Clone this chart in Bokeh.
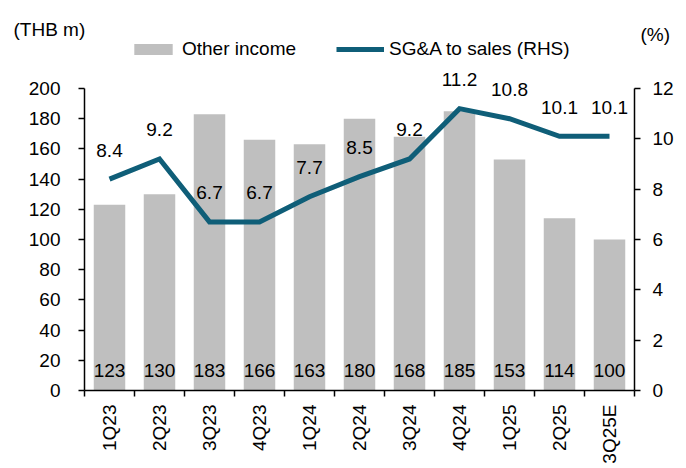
import math
from bokeh.plotting import figure
from bokeh.models import (ColumnDataSource, Range1d, LinearAxis, FixedTicker,
                          Legend, LegendItem, Label, LabelSet)
from bokeh.core.properties import value
from bokeh.embed import file_html
from bokeh.resources import INLINE

quarters = ["1Q23", "2Q23", "3Q23", "4Q23", "1Q24", "2Q24", "3Q24", "4Q24", "1Q25", "2Q25", "3Q25E"]
other_income = [123, 130, 183, 166, 163, 180, 168, 185, 153, 114, 100]
sga_to_sales = [8.4, 9.2, 6.7, 6.7, 7.7, 8.5, 9.2, 11.2, 10.8, 10.1, 10.1]
left_ticks = [0, 20, 40, 60, 80, 100, 120, 140, 160, 180, 200]
right_ticks = [0, 2, 4, 6, 8, 10, 12]

FONT = "Liberation Sans"
FS = "19px"
BAR_COLOR = "#BFBFBF"
LINE_COLOR = "#0F5E78"

# page geometry (pixels)
W, H = 686, 468
AX_X0, AX_X1 = 84, 634      # left / right axis lines
AX_Y0, AX_Y1 = 390, 88      # pixel rows of value 0 and of the axis top
LMAX, RMAX = 200, 12

n = len(quarters)
xpx = (AX_X1 - AX_X0) / n
ypx = (AX_Y0 - AX_Y1) / LMAX
x_lo, x_hi = -AX_X0 / xpx, n + (W - AX_X1) / xpx
y_lo, y_hi = -(H - AX_Y0) / ypx, LMAX + AX_Y1 / ypx
k = RMAX / LMAX

def px_to_data(px, py):
    return (px - AX_X0) / xpx, (AX_Y0 - py) / ypx

xc = [i + 0.5 for i in range(n)]
src = ColumnDataSource(dict(
    x=xc, q=quarters, inc=other_income, sga=sga_to_sales,
    inc_txt=[str(v) for v in other_income],
    sga_txt=[f"{v:.1f}" for v in sga_to_sales],
    zero=[0] * n,
))

p = figure(width=W, height=H, output_backend="svg", toolbar_location=None,
           x_range=Range1d(x_lo, x_hi), y_range=Range1d(y_lo, y_hi),
           min_border=0, min_border_left=0, min_border_right=0,
           min_border_top=0, min_border_bottom=0)
p.extra_y_ranges = {"pct": Range1d(y_lo * k, y_hi * k)}
p.xaxis.visible = False
p.yaxis.visible = False
p.xgrid.visible = False
p.ygrid.visible = False
p.outline_line_color = None
p.background_fill_color = "white"
p.border_fill_color = "white"

def style_axis(ax):
    ax.axis_line_color = "black"
    ax.axis_line_width = 1.5
    ax.major_tick_line_color = "black"
    ax.major_tick_line_width = 1.5
    ax.minor_tick_line_color = None
    ax.major_label_text_font = FONT
    ax.major_label_text_font_size = FS
    ax.major_label_text_color = "black"

xax = LinearAxis(ticker=FixedTicker(ticks=xc, minor_ticks=list(range(n + 1))),
                 bounds=(0, n), fixed_location=0)
style_axis(xax)
xax.major_tick_line_color = None
xax.major_tick_in = 0
xax.major_tick_out = 0
xax.minor_tick_line_color = "black"
xax.minor_tick_line_width = 1.5
xax.minor_tick_in = 0
xax.minor_tick_out = 6
xax.major_label_overrides = {x: q for x, q in zip(xc, quarters)}
xax.major_label_orientation = math.pi / 2
xax.major_label_standoff = 8
p.add_layout(xax, "below")

lax = LinearAxis(ticker=FixedTicker(ticks=left_ticks), bounds=(0, LMAX), fixed_location=0)
style_axis(lax)
lax.major_tick_in = 0
lax.major_tick_out = 6
lax.major_label_standoff = 18
p.add_layout(lax, "left")

rax = LinearAxis(y_range_name="pct", ticker=FixedTicker(ticks=right_ticks),
                 bounds=(0, RMAX), fixed_location=n)
style_axis(rax)
rax.major_tick_in = 0
rax.major_tick_out = 6
rax.major_label_standoff = 12
p.add_layout(rax, "right")

bars = p.vbar(x="x", top="inc", width=0.63, source=src, fill_color=BAR_COLOR, line_color=None)
line = p.line(x="x", y="sga", source=src, y_range_name="pct", line_color=LINE_COLOR,
              line_width=5, line_join="miter")

p.add_layout(LabelSet(x="x", y="zero", text="inc_txt", source=src, text_align="center",
                      text_baseline="middle", y_offset=20, text_font=value(FONT),
                      text_font_size=value(FS), text_color="black"))
p.add_layout(LabelSet(x="x", y="sga", text="sga_txt", source=src, y_range_name="pct",
                      text_align="center", text_baseline="middle", y_offset=29,
                      text_font=value(FONT), text_font_size=value(FS), text_color="black"))

legend = Legend(items=[LegendItem(label="Other income", renderers=[bars]),
                       LegendItem(label="SG&A to sales (RHS)", renderers=[line])],
                orientation="horizontal", location=(129, H - 60),
                label_text_font=FONT, label_text_font_size=FS, label_text_color="black",
                glyph_width=48, glyph_height=14, label_standoff=5, spacing=40,
                padding=0, margin=0, border_line_color=None, background_fill_alpha=0)
p.add_layout(legend, "center")

ux, uy = px_to_data(13, 29)
p.add_layout(Label(x=ux, y=uy, text="(THB m)", text_font=FONT, text_font_size=FS,
                   text_baseline="middle", text_align="left", text_color="black"))
px_, py_ = px_to_data(640, 34)
p.add_layout(Label(x=px_, y=py_, text="(%)", text_font=FONT, text_font_size=FS,
                   text_baseline="middle", text_align="left", text_color="black"))

open("out.html", "w").write(file_html(p, INLINE))
